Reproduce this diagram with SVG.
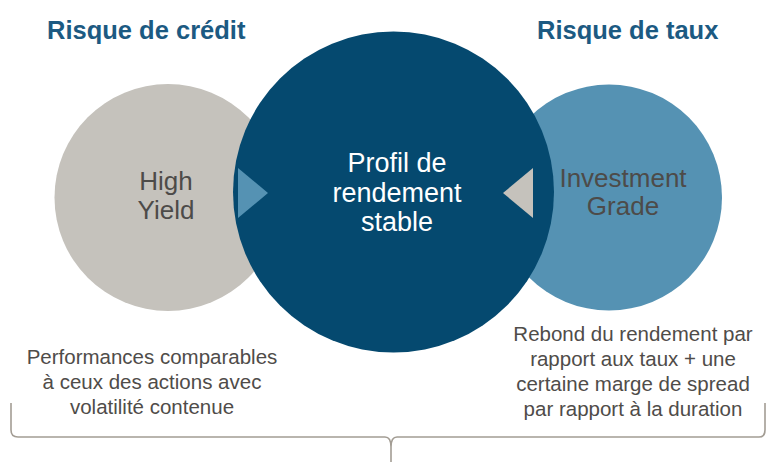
<svg xmlns="http://www.w3.org/2000/svg" width="767" height="462" viewBox="0 0 767 462">
  <style>
    .title { font-family: "Liberation Sans", Arial, sans-serif; font-weight: bold; font-size: 25.5px; fill: #1c5a82; }
    .circle-label { font-family: "Liberation Sans", Arial, sans-serif; font-size: 26px; fill: #4d4b49; text-anchor: middle; }
    .core-label { font-family: "Liberation Sans", Arial, sans-serif; font-size: 27px; fill: #ffffff; text-anchor: middle; }
    .note { font-family: "Liberation Sans", Arial, sans-serif; font-size: 20.5px; fill: #4f4c49; text-anchor: middle; }
    .brace { fill: none; stroke: #a39d94; stroke-width: 1.6; }
  </style>
  <rect width="767" height="462" fill="#ffffff"/>

  <text class="title" x="47" y="39">Risque de crédit</text>
  <text class="title" x="537" y="39">Risque de taux</text>

  <g id="high-yield">
    <circle cx="168" cy="197.5" r="113.5" fill="#c5c2bc"/>
    <text class="circle-label" x="166" y="190">High</text>
    <text class="circle-label" x="166" y="219">Yield</text>
  </g>

  <g id="investment-grade">
    <circle cx="609" cy="197.5" r="113" fill="#5592b3"/>
    <text class="circle-label" x="623" y="187">Investment</text>
    <text class="circle-label" x="623" y="215">Grade</text>
  </g>

  <g id="profil-rendement">
    <circle cx="393.5" cy="192" r="160.5" fill="#05496f"/>
    <text class="core-label" x="397" y="172">Profil de</text>
    <text class="core-label" x="397" y="202">rendement</text>
    <text class="core-label" x="397" y="231">stable</text>
  </g>

  <g id="connectors">
    <polygon points="238,168 268,193 238,218" fill="#5592b3"/>
    <polygon points="533,168 503,193 533,218" fill="#c5c2bc"/>
    <path class="brace" d="M11 403 L11 430 Q11 437 18 437 L385 437 Q391 437 391 447 L391 462 M391 462 L391 447 Q391 437 397 437 L759 437 Q765 437 765 430 L765 403"/>
  </g>

  <g id="note-credit">
    <text class="note" x="152" y="364">Performances comparables</text>
    <text class="note" x="152" y="389">à ceux des actions avec</text>
    <text class="note" x="152" y="414">volatilité contenue</text>
  </g>

  <g id="note-taux">
    <text class="note" x="633" y="341">Rebond du rendement par</text>
    <text class="note" x="633" y="366">rapport aux taux + une</text>
    <text class="note" x="633" y="391">certaine marge de spread</text>
    <text class="note" x="633" y="416">par rapport à la duration</text>
  </g>
</svg>
